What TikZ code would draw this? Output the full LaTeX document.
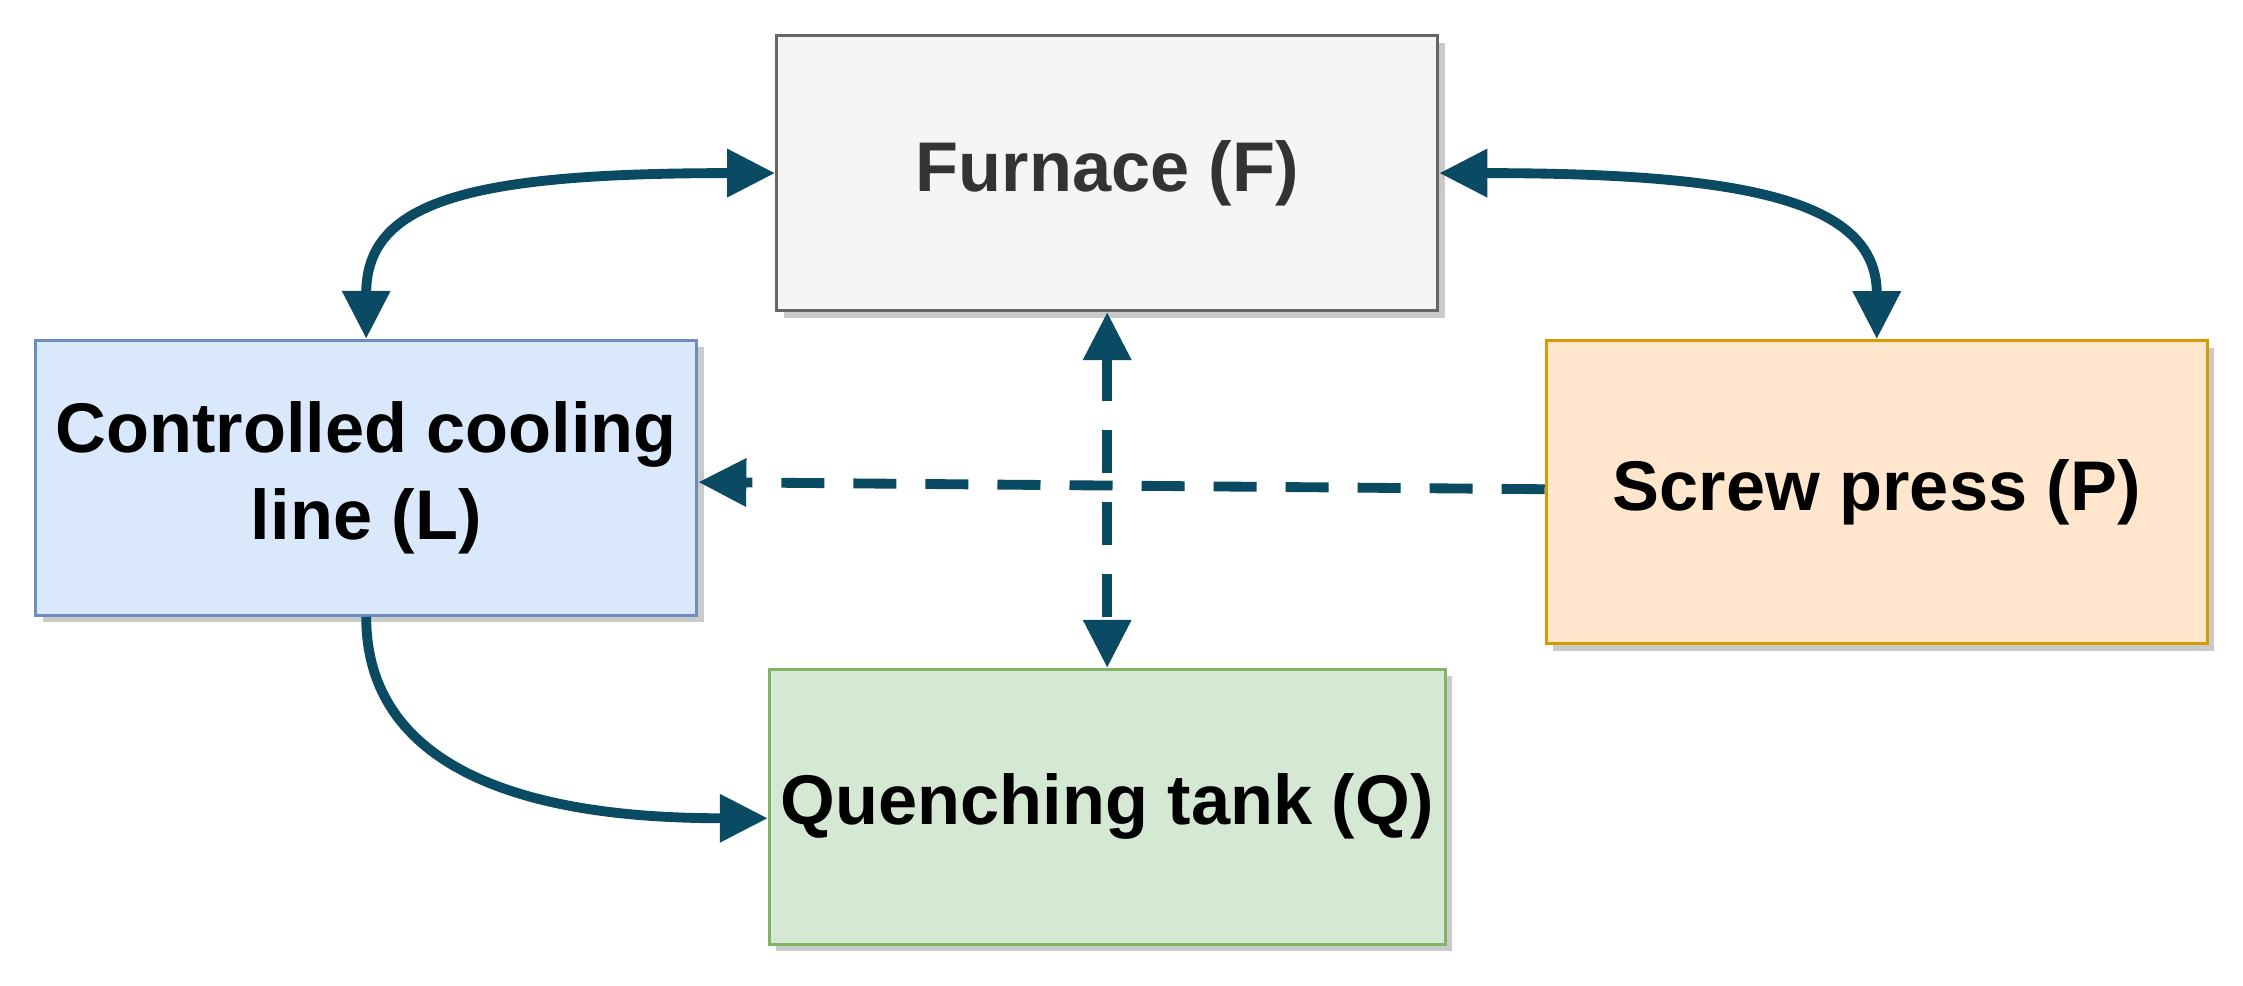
\documentclass[tikz,border=0pt]{standalone}
\usepackage{fontspec}
\setmainfont{Liberation Sans}
\usetikzlibrary{arrows.meta,shadows}
\definecolor{conn}{HTML}{0B4A63}
\begin{document}
\begin{tikzpicture}[x=0.0143cm,y=-0.0143cm,
 box/.style={draw,minimum width=6.61cm,minimum height=2.75cm,align=center,font=\fontsize{20}{25}\selectfont\bfseries,line width=0.8pt,drop shadow={shadow xshift=0.07cm,shadow yshift=-0.07cm,fill=black!35,opacity=0.6}},
 con/.style={draw=conn,line width=2.8pt,{Triangle[length=0.48cm,width=0.46cm]}-{Triangle[length=0.48cm,width=0.46cm]}},
 one/.style={draw=conn,line width=2.8pt,-{Triangle[length=0.48cm,width=0.46cm]}}]
\useasboundingbox (0,0) rectangle (1568,689);
\node[box,fill={rgb,255:red,245;green,245;blue,245},draw={rgb,255:red,102;green,102;blue,102},text={rgb,255:red,51;green,51;blue,51}] (F) at (774,121) {Furnace (F)};
\node[box,fill={rgb,255:red,218;green,232;blue,252},draw={rgb,255:red,108;green,142;blue,191}] (L) at (256,334) {Controlled cooling\\line (L)};
\node[box,fill={rgb,255:red,255;green,230;blue,204},draw={rgb,255:red,215;green,155;blue,0},minimum height=3.03cm] (P) at (1312,344) {Screw press (P)};
\node[box,fill={rgb,255:red,213;green,232;blue,212},draw={rgb,255:red,130;green,179;blue,102}] (Q) at (774,564) {Quenching tank (Q)};
\draw[con] (F.west) .. controls (330,121) and (256,140) .. (L.north);
\draw[con] (F.east) .. controls (1220,121) and (1312,140) .. (P.north);
\draw[one] (L.south) .. controls (256,560) and (420,572) .. (Q.west |- 0,572);
\draw[con,dashed,dash pattern=on 0.43cm off 0.29cm] (F.south) -- (Q.north);
\draw[one,dashed,dash pattern=on 0.43cm off 0.29cm] (P.west |- 0,342) -- (L.east |- 0,337);
\end{tikzpicture}
\end{document}
